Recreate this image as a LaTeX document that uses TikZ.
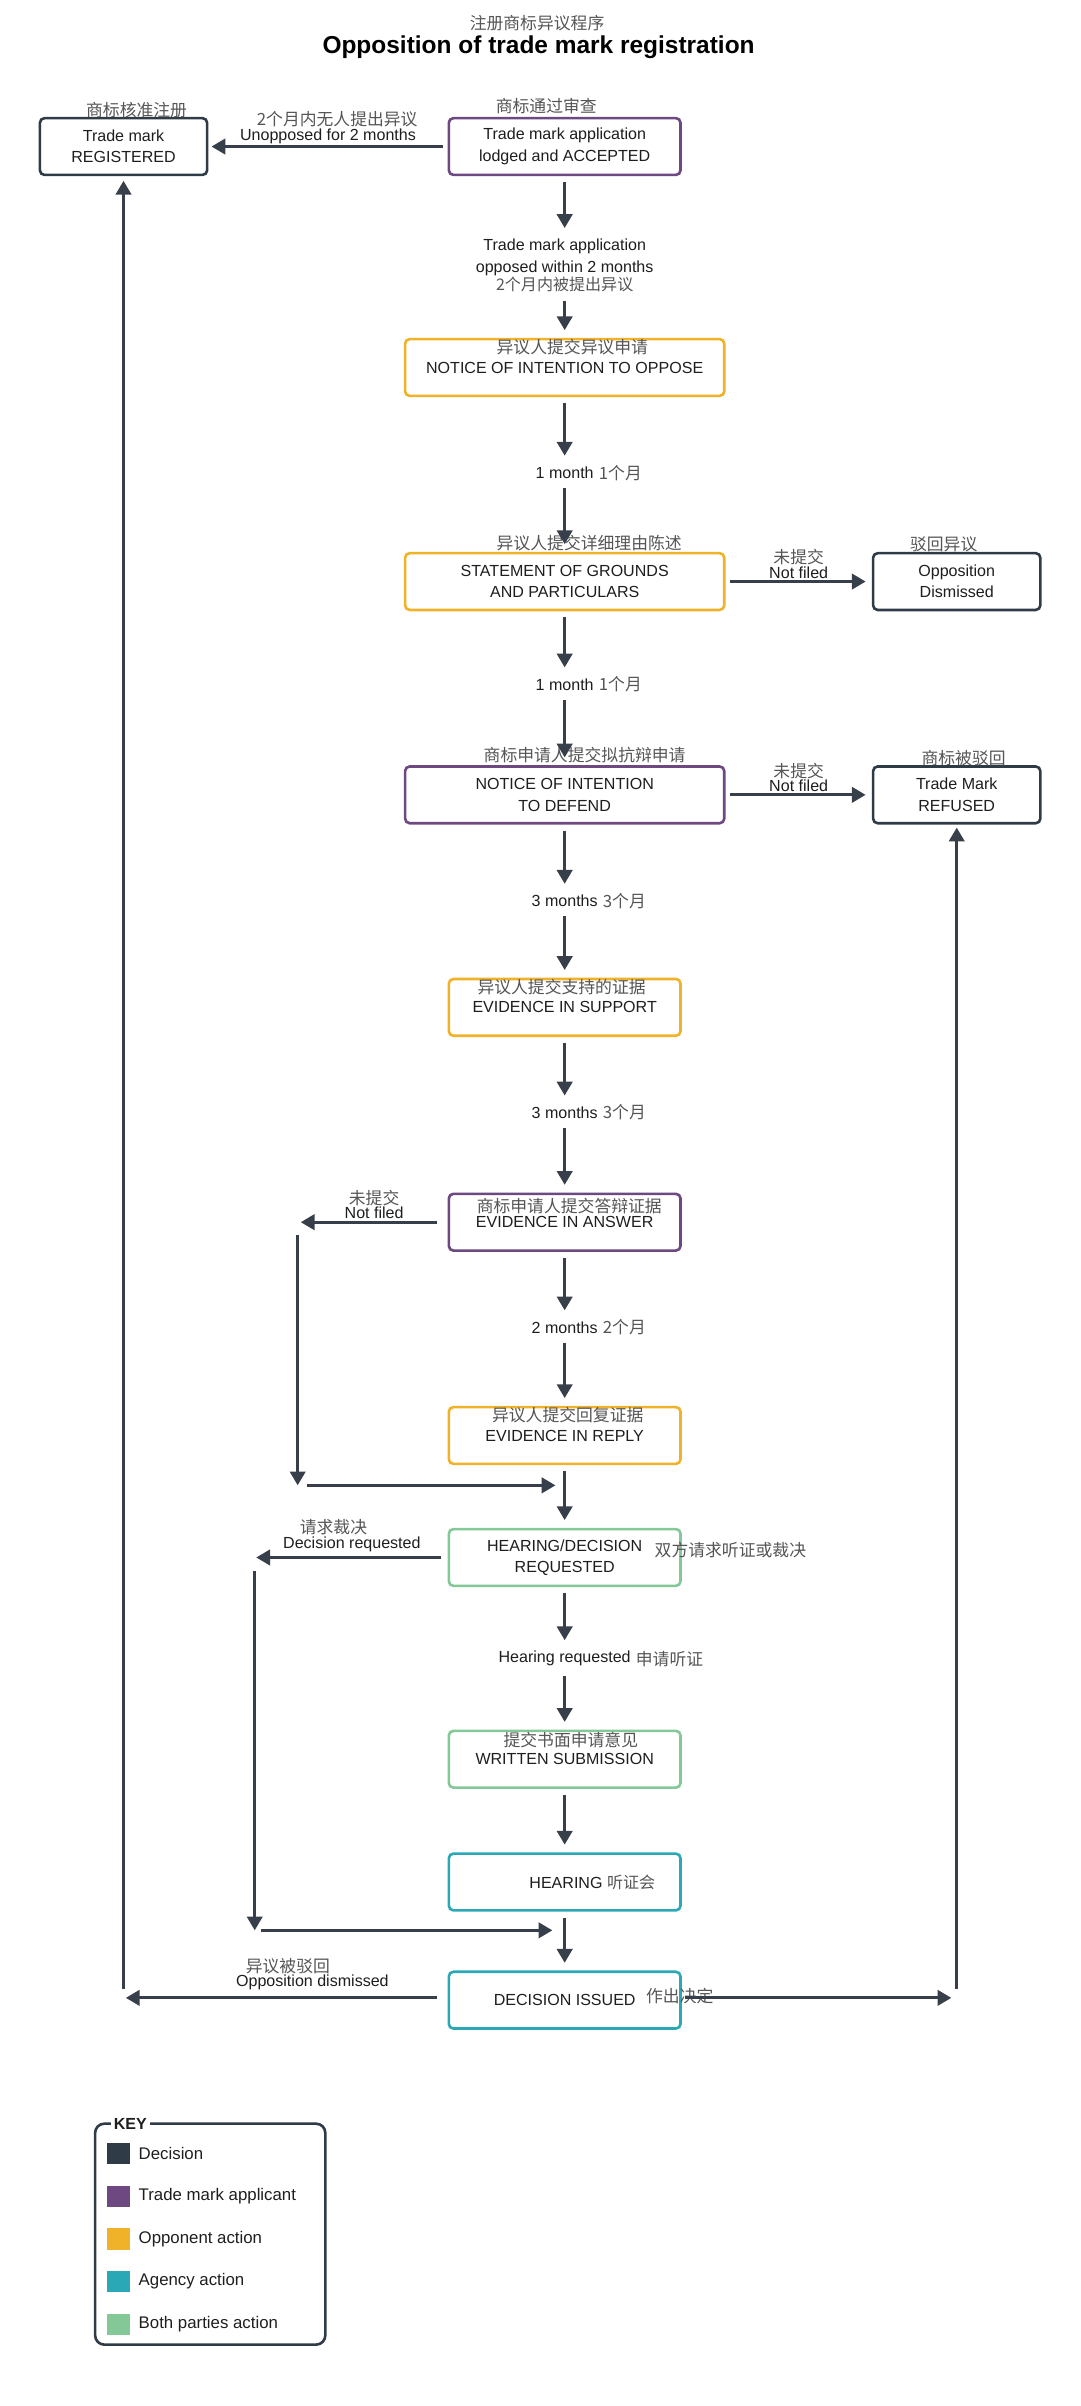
\documentclass[tikz,border=0pt]{standalone}
\usepackage{fontspec}
\setmainfont{Liberation Sans}
\newfontfamily\cnfont{Noto Sans CJK SC}
\definecolor{decisionc}{RGB}{47, 60, 72}
\definecolor{applicantc}{RGB}{110, 72, 128}
\definecolor{opponentc}{RGB}{240, 178, 40}
\definecolor{agencyc}{RGB}{42, 168, 182}
\definecolor{bothc}{RGB}{132, 200, 152}
\definecolor{linec}{RGB}{55, 64, 74}
\definecolor{inkc}{RGB}{30, 30, 30}
\definecolor{cngray}{RGB}{85, 85, 85}
\usetikzlibrary{arrows.meta, positioning}
\newcommand{\zh}[1]{{\cnfont\color{cngray}#1}}

\tikzset{
  stagebox/.style={draw, rounded corners=3bp, line width=1.7bp, fill=white, align=center,
    minimum height=37bp, inner sep=2bp, text=inkc, font=\fontsize{10.5}{14}\selectfont},
  decisionbox/.style={stagebox, draw=decisionc, minimum width=109bp},
  applicantbox/.style={stagebox, draw=applicantc},
  opponentbox/.style={stagebox, draw=opponentc},
  agencybox/.style={stagebox, draw=agencyc},
  bothbox/.style={stagebox, draw=bothc},
  zhlab/.style={font=\cnfont\fontsize{11}{13}\selectfont, text=cngray, inner sep=1bp},
  flowlab/.style={font=\fontsize{10.5}{14}\selectfont, text=inkc, align=center, inner sep=2bp},
  branchlab/.style={flowlab, above, inner sep=1bp},
  flow/.style={draw=linec, line width=2bp, -{Triangle[width=10bp,length=9bp]}},
  vflow/.style={flow, shorten <=4bp, shorten >=5bp},
  keysq/.style={minimum width=15bp, minimum height=14bp, inner sep=0pt},
  keytext/.style={font=\fontsize{11}{13}\selectfont, text=inkc, inner sep=0pt},
}

\begin{document}
\begin{tikzpicture}[x=10bp, y=10bp]
  \useasboundingbox (0,0) rectangle (70.4,-156.8);

  % Title
  \node[zhlab] (subt) at (35.0,-1.5) {注册商标异议程序};
  \node[font=\bfseries\fontsize{16}{18}\selectfont, text=black] (title) at (35.1,-3.1) {Opposition of trade mark registration};

  % Main column
  \node[decisionbox] (reg) at (8.05,-9.55) {Trade mark\\REGISTERED};
  \node[applicantbox, minimum width=151bp] (acc) at (36.8,-9.55) {Trade mark application\\lodged and ACCEPTED};
  \node[opponentbox, minimum width=208bp] (opp) at (36.8,-23.95) {NOTICE OF INTENTION TO OPPOSE};
  \node[opponentbox, minimum width=208bp] (sgp) at (36.8,-37.9) {STATEMENT OF GROUNDS\\AND PARTICULARS};
  \node[decisionbox] (dis) at (62.35,-37.9) {Opposition\\Dismissed};
  \node[applicantbox, minimum width=208bp] (def) at (36.8,-51.8) {NOTICE OF INTENTION\\TO DEFEND};
  \node[decisionbox] (ref) at (62.35,-51.8) {Trade Mark\\REFUSED};
  \node[opponentbox, minimum width=151bp] (sup) at (36.8,-65.65) {EVIDENCE IN SUPPORT};
  \node[applicantbox, minimum width=151bp] (ans) at (36.8,-79.65) {EVIDENCE IN ANSWER};
  \node[opponentbox, minimum width=151bp] (rep) at (36.8,-93.55) {EVIDENCE IN REPLY};
  \node[bothbox, minimum width=151bp] (hdr) at (36.8,-101.5) {HEARING/DECISION\\REQUESTED};
  \node[bothbox, minimum width=151bp] (wri) at (36.8,-114.65) {WRITTEN SUBMISSION};
  \node[agencybox, minimum width=151bp] (hea) at (36.8,-122.65) {\hspace*{36bp}HEARING \zh{听证会}};
  \node[agencybox, minimum width=151bp] (dec) at (36.8,-130.35) {DECISION ISSUED};

  % Chinese captions
  \node[zhlab] (regzh) at (8.9,-7.2) {商标核准注册};
  \node[zhlab] (acczh) at (35.6,-6.9) {商标通过审查};
  \node[zhlab] (oppzh) at (37.3,-22.6) {异议人提交异议申请};
  \node[zhlab] (sgpzh) at (38.4,-35.4) {异议人提交详细理由陈述};
  \node[zhlab] (diszh) at (61.5,-35.5) {驳回异议};
  \node[zhlab] (defzh) at (38.1,-49.2) {商标申请人提交拟抗辩申请};
  \node[zhlab] (refzh) at (62.8,-49.4) {商标被驳回};
  \node[zhlab] (supzh) at (36.6,-64.3) {异议人提交支持的证据};
  \node[zhlab] (anszh) at (37.1,-78.6) {商标申请人提交答辩证据};
  \node[zhlab] (repzh) at (37.0,-92.2) {异议人提交回复证据};
  \node[zhlab] (hdrzh) at (47.6,-101.0) {双方请求听证或裁决};
  \node[zhlab] (wrizh) at (37.2,-113.4) {提交书面申请意见};
  \node[zhlab] (deczh) at (44.3,-130.1) {作出决定};

  % Time limits
  \node[flowlab] (opl) at (36.8,-17.3) {Trade mark application\\opposed within 2 months\\[-2bp]\zh{2个月内被提出异议}};
  \node[flowlab, label={[zhlab]right:1个月}] (m1) at (36.8,-30.8) {1 month};
  \node[flowlab, label={[zhlab]right:1个月}] (m2) at (36.8,-44.6) {1 month};
  \node[flowlab, label={[zhlab]right:3个月}] (m3) at (36.8,-58.7) {3 months};
  \node[flowlab, label={[zhlab]right:3个月}] (m4) at (36.8,-72.5) {3 months};
  \node[flowlab, label={[zhlab]right:2个月}] (m5) at (36.8,-86.5) {2 months};
  \node[flowlab, label={[zhlab]right:申请听证}] (m6) at (36.8,-108.1) {Hearing requested};

  \draw[vflow] (acc) -- (opl);
  \draw[vflow] (opl) -- (opp);
  \draw[vflow] (opp) -- (m1);
  \draw[vflow] (m1) -- (sgp);
  \draw[vflow] (sgp) -- (m2);
  \draw[vflow] (m2) -- (def);
  \draw[vflow] (def) -- (m3);
  \draw[vflow] (m3) -- (sup);
  \draw[vflow] (sup) -- (m4);
  \draw[vflow] (m4) -- (ans);
  \draw[vflow] (ans) -- (m5);
  \draw[vflow] (m5) -- (rep);
  \draw[vflow] (rep) -- (hdr);
  \draw[vflow] (hdr) -- (m6);
  \draw[vflow] (m6) -- (wri);
  \draw[vflow] (wri) -- (hea);
  \draw[vflow] (hea) -- (dec);

  % Side branches
  \draw[flow, shorten <=3bp, shorten >=2bp] (acc) -- node[branchlab, label={[zhlab, yshift=-3bp, xshift=6bp]above:2个月内无人提出异议}] {Unopposed for 2 months} (reg);
  \draw[flow, shorten <=3bp, shorten >=4bp] (sgp) -- node[branchlab, label={[zhlab, yshift=-3bp]above:未提交}] {Not filed} (dis);
  \draw[flow, shorten <=3bp, shorten >=4bp] (def) -- node[branchlab, label={[zhlab, yshift=-3bp]above:未提交}] {Not filed} (ref);

  \coordinate (ansL) at (19.6,-79.65);
  \coordinate (ansL2) at (19.4,-80.5);
  \coordinate (ansB) at (19.4,-96.8);
  \coordinate (ansB2) at (20.0,-96.8);
  \coordinate (ansR) at (36.2,-96.8);
  \draw[flow, shorten <=7bp] (ans) -- node[branchlab, label={[zhlab, yshift=-3bp]above:未提交}] {Not filed} (ansL);
  \draw[flow] (ansL2) -- (ansB);
  \draw[flow] (ansB2) -- (ansR);

  \coordinate (hdrL) at (16.7,-101.5);
  \coordinate (hdrL2) at (16.6,-102.4);
  \coordinate (hdrB) at (16.6,-125.8);
  \coordinate (hdrB2) at (17.0,-125.8);
  \coordinate (hdrR) at (36.0,-125.8);
  \draw[flow, shorten <=4bp] (hdr) -- node[branchlab, yshift=2bp, label={[zhlab, yshift=-3bp, xshift=-12bp]above:请求裁决}] {Decision requested} (hdrL);
  \draw[flow] (hdrL2) -- (hdrB);
  \draw[flow] (hdrB2) -- (hdrR);

  \coordinate (decL) at (8.2,-130.2);
  \coordinate (decL2) at (8.05,-129.6);
  \coordinate (decR) at (62.0,-130.2);
  \coordinate (decR2) at (62.35,-129.6);
  \draw[flow, shorten <=7bp] (dec.west |- decL) -- node[branchlab, pos=0.42, yshift=3bp, label={[zhlab, yshift=-3bp, xshift=-16bp]above:异议被驳回}] {Opposition dismissed} (decL);
  \draw[flow, shorten >=3bp] (decL2) -- (reg);
  \draw[flow, shorten <=2bp] (dec.east |- decR) -- (decR);
  \draw[flow, shorten >=2bp] (decR2) -- (ref);

  % Key
  \node[draw=decisionc, line width=1.7bp, rounded corners=6bp, minimum width=150bp, minimum height=144bp] (key) at (13.7,-145.6) {};
  \node[fill=white, font=\bfseries\fontsize{10.5}{12}\selectfont, text=inkc, inner sep=2bp, anchor=west] (keyt) at (7.2,-138.4) {KEY};
  \foreach \col/\txt [count=\i] in {decisionc/Decision, applicantc/Trade mark applicant, opponentc/Opponent action, agencyc/Agency action, bothc/Both parties action} {
    \node[keysq, fill=\col] (ks\i) at (7.75,{-140.35-2.78*(\i-1)}) {};
    \node[keytext, right=5bp of ks\i] (kt\i) {\txt};
  }
\end{tikzpicture}
\end{document}
